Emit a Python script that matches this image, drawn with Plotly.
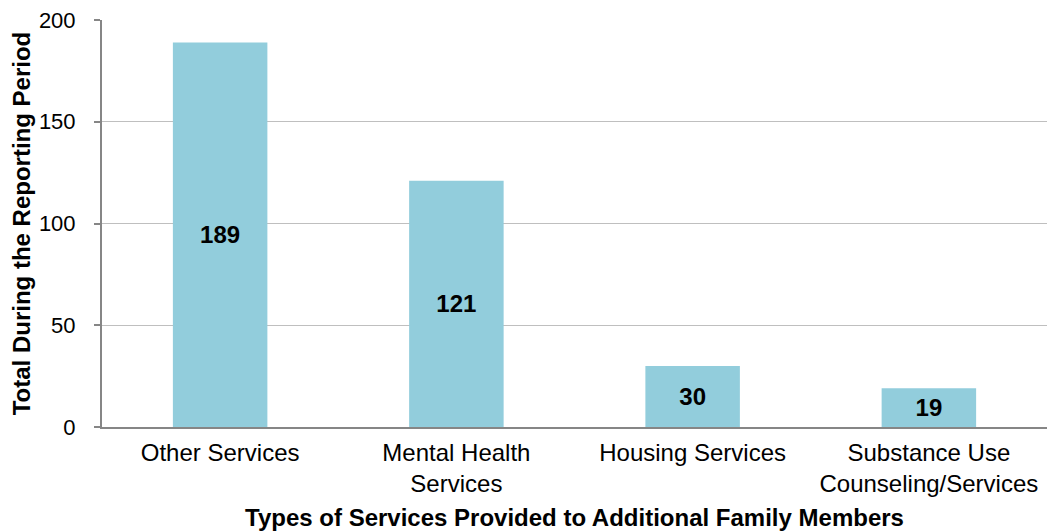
import plotly.graph_objects as go

categories = ["Other Services", "Mental Health<br>Services", "Housing Services",
              "Substance Use<br>Counseling/Services"]
totals = [189, 121, 30, 19]
y_ticks = [0, 50, 100, 150, 200]

FONT = "Liberation Sans, Arial, sans-serif"

fig = go.Figure(
    go.Bar(
        x=categories,
        y=totals,
        width=0.4,
        marker=dict(color="#92CDDC", line=dict(width=0)),
        text=[str(v) for v in totals],
        textposition="inside",
        insidetextanchor="middle",
        textfont=dict(family=FONT, size=24, color="#000000", weight="bold"),
        textangle=0,
        cliponaxis=False,
    )
)

fig.update_layout(
    width=1047,
    height=531,
    margin=dict(l=102, r=0, t=20, b=104),
    paper_bgcolor="white",
    plot_bgcolor="white",
    showlegend=False,
    font=dict(family=FONT, size=22, color="#000000"),
    uniformtext=dict(mode="show", minsize=10),
)

fig.update_xaxes(
    showline=True,
    linecolor="#868686",
    linewidth=2,
    showgrid=False,
    ticks="",
    ticklabelstandoff=3,
    tickfont=dict(family=FONT, size=24),
    title=dict(
        text="Types of Services Provided to Additional Family Members",
        font=dict(family=FONT, size=24, weight="bold"),
        standoff=13,
    ),
    automargin=False,
)

fig.update_yaxes(
    range=[0, 200],
    tickvals=y_ticks,
    showline=True,
    linecolor="#868686",
    linewidth=2,
    showgrid=True,
    gridcolor="#BFBFBF",
    gridwidth=1,
    zeroline=False,
    ticks="outside",
    ticklen=6,
    tickcolor="#868686",
    tickwidth=2,
    ticklabelstandoff=14,
    tickfont=dict(family=FONT, size=22),
    title=dict(
        text="Total During the Reporting Period",
        font=dict(family=FONT, size=24, weight="bold"),
        standoff=1,
    ),
    automargin=False,
)

fig.write_html("out.html")
